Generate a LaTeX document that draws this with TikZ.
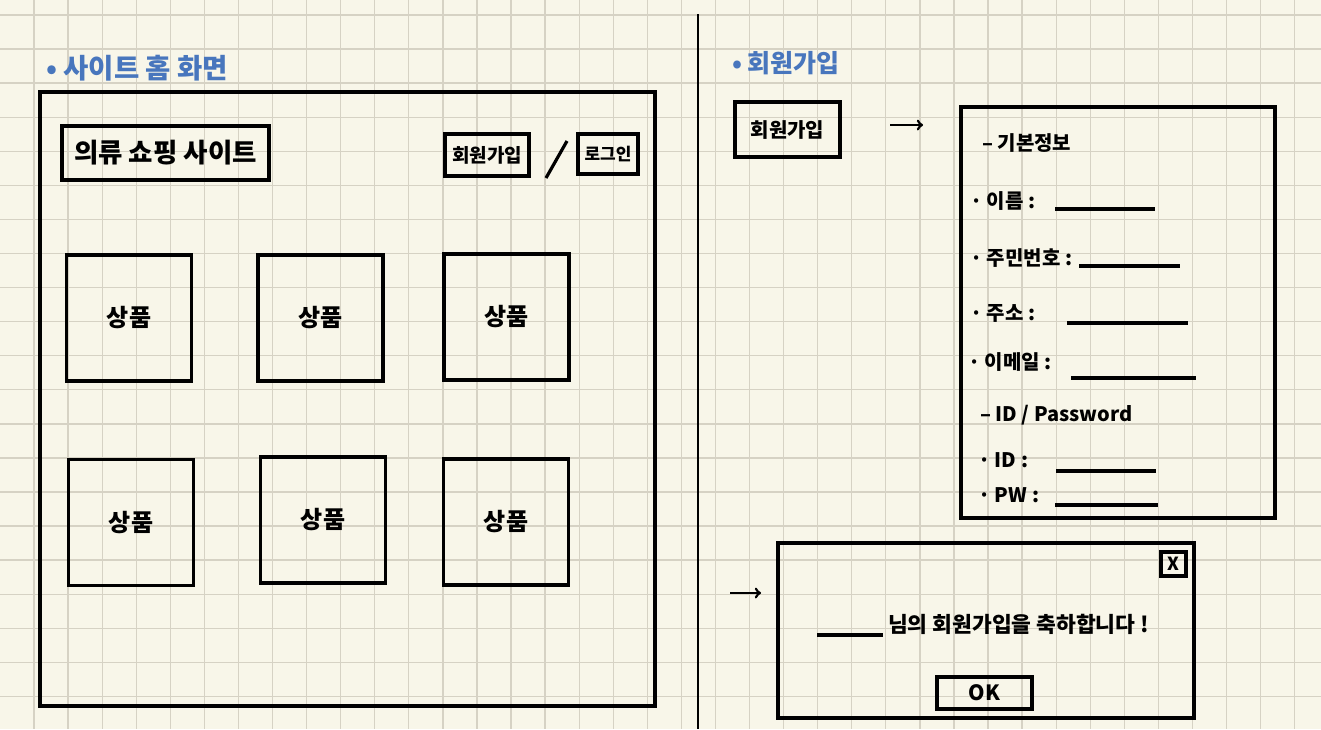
\documentclass[tikz,border=0pt]{standalone}
\usepackage{fontspec}
\newfontfamily\kr{Noto Sans CJK KR}
\usepackage{tikz}
\usetikzlibrary{calc,positioning,arrows}
\definecolor{mypaper}{RGB}{248,246,233}
\definecolor{mygrid}{RGB}{214,210,196}
\definecolor{myblue}{RGB}{72,118,189}
\tikzstyle{gridline}=[draw=mygrid,line width=1.3pt]
\tikzstyle{frame}=[draw,line width=3.8pt,inner sep=0pt]
\tikzstyle{btn}=[draw,line width=3.4pt,inner sep=0pt]
\tikzstyle{product}=[frame,minimum width=125pt,minimum height=126pt,font=\kr\bfseries\fontsize{24}{28}\selectfont]
\tikzstyle{heading}=[text=myblue,anchor=west,inner sep=0pt]
\tikzstyle{field}=[anchor=west,inner sep=0pt,font=\kr\bfseries\fontsize{20}{24}\selectfont]
\tikzstyle{fieldline}=[line width=3.2pt]
\tikzstyle{arrowline}=[-to,line width=2.7pt]

\begin{document}
\begin{tikzpicture}[x=1pt,y=-1pt]
\fill[mypaper] (0,0) rectangle (1321,729);
\useasboundingbox (0,0) rectangle (1321,729);
\foreach \i in {1,...,38} \draw[gridline] (\i*34.07,0) -- (\i*34.07,729);
\foreach \j in {0,...,20} \draw[gridline] (0,15+\j*34.07) -- (1321,15+\j*34.07);

\node[heading,font=\kr\bfseries\fontsize{27.5}{30}\selectfont] (hmain) at (46,68) {• 사이트 홈 화면};
\node[frame,minimum width=615pt,minimum height=614pt] (main) at (347.5,399) {};
\node[frame,minimum width=207pt,minimum height=54pt,font=\kr\bfseries\fontsize{26.5}{30}\selectfont] (logo) at (165.5,153) {의류 쇼핑 사이트};
\node[btn,minimum width=84pt,minimum height=42pt,font=\kr\bfseries\fontsize{19}{22}\selectfont] (join) at (487,155) {회원가입};
\node[btn,minimum width=60pt,minimum height=40pt,font=\kr\bfseries\fontsize{17}{20}\selectfont] (login) at (608,154) {로그인};
\coordinate (slashtop) at (567,141);
\coordinate (slashbot) at (546,178);
\draw[line width=3.2pt] (slashtop) -- (slashbot);
\foreach \n/\x/\y in {1/129/318,2/320.5/318,3/506.5/317,4/131/522.5,5/323/520,6/506/522}
  \node[product] (p\n) at (\x,\y) {상품};

\draw[line width=2.6pt] (698,14) -- (698,729);

\node[heading,font=\kr\bfseries\fontsize{25}{28}\selectfont] (hjoin) at (732,63) {• 회원가입};
\node[frame,minimum width=105pt,minimum height=55pt,font=\kr\bfseries\fontsize{20}{24}\selectfont] (joinbtn) at (787.5,129.5) {회원가입};
\coordinate (a1s) at (890,125);
\coordinate (a1e) at (923,125);
\draw[arrowline] (a1s) -- (a1e);

\node[frame,minimum width=314pt,minimum height=411pt] (form) at (1118,312.5) {};
\node[field] (basic) at (982,143) {– 기본정보};
\node[field] (name) at (970,201) {· 이름 :};
\node[field] (rrn) at (970,258) {· 주민번호 :};
\node[field] (addr) at (970,313) {· 주소 :};
\node[field] (email) at (968,362) {· 이메일 :};
\node[field] (idpw) at (980,415) {– ID / Password};
\node[field] (id) at (978,460) {· ID :};
\node[field] (pw) at (978,495) {· PW :};
\foreach \x/\y/\l in {1055/209/100,1079/266/101,1067/323/121,1071/378/125,1056/471/100,1055/505/103}
  \draw[fieldline] (\x,\y) -- ++(\l,0);

\coordinate (a2s) at (730,593);
\coordinate (a2e) at (761,593);
\draw[arrowline] (a2s) -- (a2e);
\node[frame,minimum width=416pt,minimum height=175pt] (dialog) at (986,630.5) {};
\node[btn,minimum width=25pt,minimum height=24pt,font=\kr\bfseries\fontsize{18}{20}\selectfont] (close) at (1173.5,564) {X};
\draw[fieldline] (817,635) -- ++(66,0);
\node[field,font=\kr\bfseries\fontsize{21.5}{24}\selectfont] (congrats) at (888,624) {님의 회원가입을 축하합니다 !};
\node[btn,minimum width=95pt,minimum height=32pt,font=\kr\bfseries\fontsize{21}{24}\selectfont] (ok) at (984.5,693) {OK};
\end{tikzpicture}
\end{document}
